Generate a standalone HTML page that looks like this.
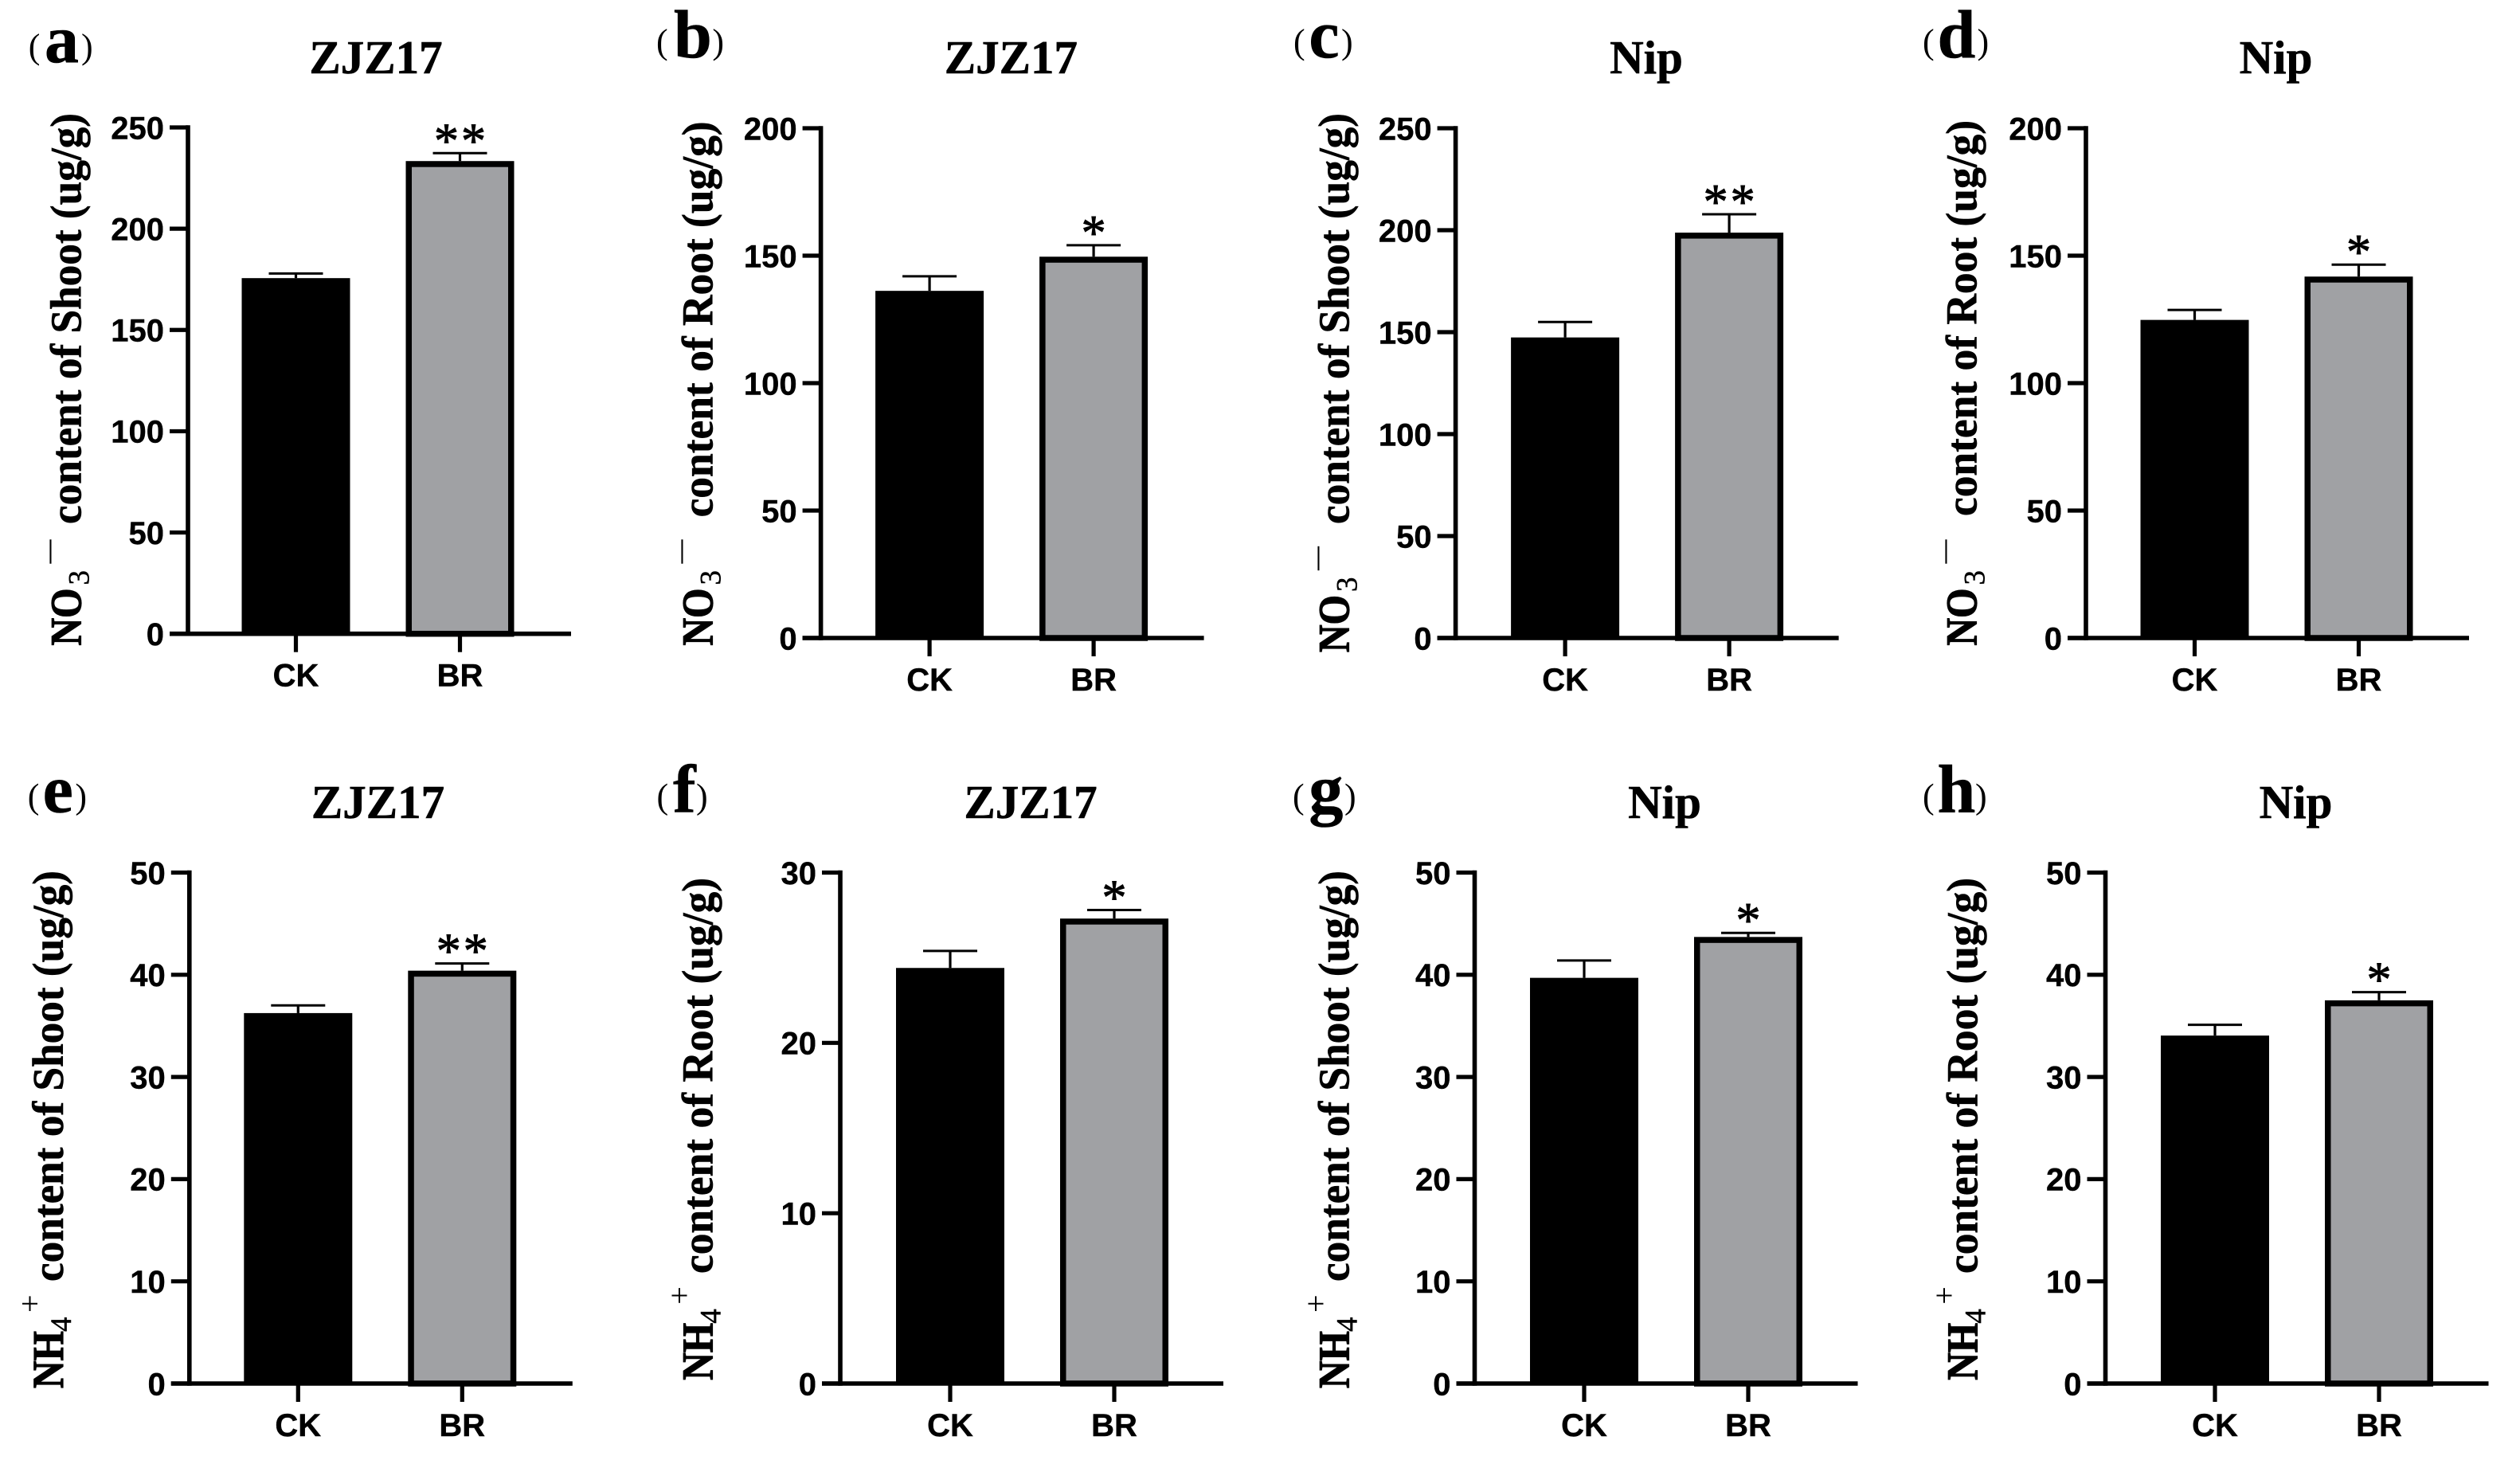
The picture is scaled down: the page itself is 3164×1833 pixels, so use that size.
<!DOCTYPE html>
<html lang="en">
<head>
<meta charset="utf-8">
<title>NO3- and NH4+ content of shoot and root</title>
<style>
html,body{margin:0;padding:0;background:#fff;}
svg{display:block;}
.tick{font:bold 40px "Liberation Sans",Arial,sans-serif;fill:#000;stroke:#000;stroke-width:0.4px;}
.serif{font-family:"Liberation Serif","Times New Roman",serif;fill:#000;}
.heavy{stroke:#000;stroke-width:0.6px;}
.heavier{stroke:#000;stroke-width:1.2px;}
.light{stroke:#000;stroke-width:0.5px;}
</style>
</head>
<body>
<svg id="figure" xmlns="http://www.w3.org/2000/svg" width="3164" height="1833" viewBox="0 0 3164 1833">
<rect x="0" y="0" width="3164" height="1833" fill="#ffffff"/>
</svg>
<script>
// ---- chart data ----
const categories = ['CK', 'BR'];
const panelLetters = ['a', 'b', 'c', 'd', 'e', 'f', 'g', 'h'];
const panelTitles = ['ZJZ17', 'ZJZ17', 'Nip', 'Nip', 'ZJZ17', 'ZJZ17', 'Nip', 'Nip'];
const ionNames = ['NO', 'NO', 'NO', 'NO', 'NH', 'NH', 'NH', 'NH'];
const tissueNames = ['Shoot', 'Root', 'Shoot', 'Root', 'Shoot', 'Root', 'Shoot', 'Root'];
const ckValues = [175.6, 136.2, 147.4, 124.8, 36.25, 24.4, 39.7, 34.05];
const brValues = [233.4, 149.6, 198.8, 141.8, 40.4, 27.3, 43.7, 37.5];
const ckErrorTops = [177.9, 141.9, 155, 128.7, 37, 25.4, 41.4, 35.1];
const brErrorTops = [237.3, 154.1, 207.8, 146.5, 41.1, 27.8, 44.1, 38.3];
const significance = ['**', '*', '**', '*', '**', '*', '*', '*'];
const yTickLabels = [
  [0, 50, 100, 150, 200, 250],
  [0, 50, 100, 150, 200],
  [0, 50, 100, 150, 200, 250],
  [0, 50, 100, 150, 200],
  [0, 10, 20, 30, 40, 50],
  [0, 10, 20, 30],
  [0, 10, 20, 30, 40, 50],
  [0, 10, 20, 30, 40, 50]
];

// ---- layout (pixels, not data) ----
const layout = [
  {ax:236,bx:0,top:160,base:795.7,tx:472,ty:92,lx:[35.7,56,102],ly:78,yb:101.7,ys:810.5,yc:658},
  {ax:1030.6,bx:1,top:161,base:801,tx:1269.4,ty:92,lx:[824,846,894.4],ly:72,yb:894.4,ys:810.5,yc:649.4},
  {ax:1827.6,bx:2,top:161,base:801,tx:2067,ty:92,lx:[1624,1643.4,1684],ly:72,yb:1693.4,ys:819,yc:658},
  {ax:2619,bx:1,top:161,base:801,tx:2857.5,ty:92,lx:[2414,2432.5,2482.5],ly:72,yb:2481.5,ys:810.5,yc:648},
  {ax:237.8,bx:1,top:1095.5,base:1737,tx:474.5,ty:1027,lx:[34.7,53.6,94.4],ly:1019.4,yb:79,ys:1743,yc:1609},
  {ax:1055,bx:2.5,top:1095.5,base:1737,tx:1294,ty:1027,lx:[824.5,845,874],ly:1019.4,yb:894.4,ys:1732.8,yc:1599},
  {ax:1851.5,bx:2,top:1095.5,base:1737,tx:2090,ty:1027,lx:[1623,1643.4,1688],ly:1019.4,yb:1693.4,ys:1743,yc:1609},
  {ax:2643.5,bx:2,top:1095.5,base:1737,tx:2882.5,ty:1027,lx:[2414,2432.5,2480],ly:1019.4,yb:2482.5,ys:1732.8,yc:1599}
];
const NS = 'http://www.w3.org/2000/svg';
const svg = document.getElementById('figure');

function mk(parent, tag, attrs, name, text) {
  const el = document.createElementNS(NS, tag);
  for (const k in attrs) el.setAttribute(k, attrs[k]);
  
  
  if (text !== undefined) el.textContent = text;
  parent.appendChild(el);
  return el;
}

function drawPanel(i) {
  const L = layout[i];
  const letter = panelLetters[i];
  const ticks = yTickLabels[i];
  const yMax = ticks[ticks.length - 1];
  const yScale = v => L.base - (v / yMax) * (L.base - L.top);
  const xScale = c => L.ax + L.bx + 135.5 + c * 206;
  const BAR_W = 136, AXIS_W = 5.6, TICK_LEN = 23, BORDER = 7.5, CAP = 34;

  const g = mk(svg, 'g', {}, 'panel-' + letter);

  // panel label
  mk(g, 'text', {class:'serif', x:L.lx[0], y:L.ly - 5, 'font-size':44}, 'panel-label-open-' + letter, '(');
  mk(g, 'text', {class:'serif heavy', x:L.lx[1], y:L.ly, 'font-size':86, 'font-weight':'bold'}, 'panel-label-' + letter, letter);
  mk(g, 'text', {class:'serif', x:L.lx[2], y:L.ly - 5, 'font-size':44}, 'panel-label-close-' + letter, ')');

  // title
  mk(g, 'text', {class:'serif heavy', x:L.tx, y:L.ty, 'font-size':59, 'font-weight':'bold', 'text-anchor':'middle'}, 'chart-title-' + letter, panelTitles[i]);

  // y axis title
  const isNitrate = ionNames[i] === 'NO';
  const yt = mk(g, 'g', {transform:'translate(' + L.yb + ',' + L.ys + ') rotate(-90)'}, 'y-axis-title-' + letter);
  mk(yt, 'text', {class:'serif heavier', x:0, y:0, 'font-size':55, 'font-weight':'bold', textLength:72, lengthAdjust:'spacingAndGlyphs'}, 'y-title-ion-' + letter, ionNames[i]);
  mk(yt, 'text', {class:'serif light', x:isNitrate ? 76 : 71, y:10, 'font-size':37}, 'y-title-subscript-' + letter, isNitrate ? '3' : '4');
  if (isNitrate) {
    mk(yt, 'text', {class:'serif', x:103, y:-31, 'font-size':30, 'font-weight':'bold'}, 'y-title-charge-' + letter, '\u2014');
  } else {
    mk(yt, 'text', {class:'serif', x:95, y:-28, 'font-size':40}, 'y-title-charge-' + letter, '+');
  }
  mk(yt, 'text', {class:'serif heavy', x:L.ys - L.yc, y:0, 'font-size':55, 'font-weight':'bold', textLength:tissueNames[i] === 'Shoot' ? 516 : 497, lengthAdjust:'spacingAndGlyphs'}, 'y-title-text-' + letter, 'content of ' + tissueNames[i] + ' (ug/g)');

  // bars
  const ckX = xScale(0), brX = xScale(1);
  const ckY = yScale(ckValues[i]), brY = yScale(brValues[i]);
  mk(g, 'rect', {x:ckX - BAR_W / 2, y:ckY, width:BAR_W, height:L.base - ckY, fill:'#000'}, 'bar-ck-' + letter);
  mk(g, 'rect', {x:brX - BAR_W / 2 + BORDER / 2, y:brY + BORDER / 2, width:BAR_W - BORDER, height:L.base - brY - BORDER / 2, fill:'#a0a1a4', stroke:'#000', 'stroke-width':BORDER}, 'bar-br-' + letter);

  // error bars
  [[ckX, ckY, ckErrorTops[i], 'ck'], [brX, brY, brErrorTops[i], 'br']].forEach(function (e) {
    const ey = yScale(e[2]);
    mk(g, 'line', {x1:e[0], x2:e[0], y1:e[1], y2:ey, stroke:'#000', 'stroke-width':3.2}, 'error-stem-' + e[3] + '-' + letter);
    mk(g, 'line', {x1:e[0] - CAP, x2:e[0] + CAP, y1:ey, y2:ey, stroke:'#000', 'stroke-width':3}, 'error-cap-' + e[3] + '-' + letter);
  });

  // significance marks
  const sy = yScale(brErrorTops[i]) + 5;
  const marks = significance[i].split('');
  marks.forEach(function (m, k) {
    const sx = brX + (k - (marks.length - 1) / 2) * 34;
    mk(g, 'text', {class:'serif', x:sx, y:sy, 'font-size':62, 'text-anchor':'middle', stroke:'#000', 'stroke-width':1}, 'significance-mark-' + letter, m);
  });

  // axes
  mk(g, 'line', {x1:L.ax, x2:L.ax, y1:L.top - AXIS_W / 2, y2:L.base + AXIS_W / 2, stroke:'#000', 'stroke-width':AXIS_W}, 'y-axis-' + letter);
  mk(g, 'line', {x1:L.ax - TICK_LEN, x2:L.ax + 481, y1:L.base, y2:L.base, stroke:'#000', 'stroke-width':AXIS_W}, 'x-axis-' + letter);

  ticks.forEach(function (t) {
    const y = yScale(t);
    mk(g, 'line', {x1:L.ax - TICK_LEN, x2:L.ax, y1:y, y2:y, stroke:'#000', 'stroke-width':5.2}, 'y-tick-' + letter);
    mk(g, 'text', {class:'tick', x:L.ax - TICK_LEN - 7, y:y + 14.3, 'text-anchor':'end'}, 'y-tick-label-' + letter, String(t));
  });

  categories.forEach(function (c, k) {
    const x = xScale(k);
    mk(g, 'line', {x1:x, x2:x, y1:L.base, y2:L.base + 23, stroke:'#000', 'stroke-width':5.2}, 'x-tick-' + letter);
    mk(g, 'text', {class:'tick', x:x, y:L.base + 66, 'text-anchor':'middle'}, 'x-tick-label-' + letter, c);
  });
}

panelLetters.forEach(function (_, i) { drawPanel(i); });
</script>
</body>
</html>
